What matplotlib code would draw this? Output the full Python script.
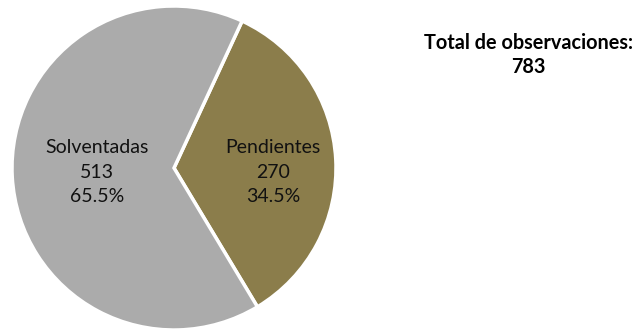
import matplotlib
matplotlib.use("Agg")
import matplotlib.pyplot as plt

plt.rcParams["font.family"] = ["Lato", "DejaVu Sans"]

categories = ["Pendientes", "Solventadas"]
counts = [270, 513]
colors = ["#8B7D4B", "#ABABAB"]
total = sum(counts)

fig = plt.figure(figsize=(6.37, 3.30), dpi=100)
ax = fig.add_axes([12 / 637, 0.0, 324 / 637, 324 / 330])
wedges, _ = ax.pie(counts, colors=colors, startangle=-59, counterclock=True,
                   wedgeprops=dict(edgecolor="white", linewidth=2.5))
ax.set_xlim(-1, 1); ax.set_ylim(-1, 1)
ax.set_aspect("equal")

# label centres in pie-radius units
label_xy = [(0.61, -0.025), (-0.475, -0.025)]
for name, n, (x, y) in zip(categories, counts, label_xy):
    ax.text(x, y, f"{name}\n{n}\n{n / total * 100:.1f}%", ha="center", va="center",
            fontsize=14, linespacing=1.55, color="#111111")

fig.text(528 / 637, 1 - 55 / 330, f"Total de observaciones:\n{total}", ha="center",
         va="center", fontsize=14.3, fontweight="bold", linespacing=1.25)

fig.savefig("out.png", dpi=100)
